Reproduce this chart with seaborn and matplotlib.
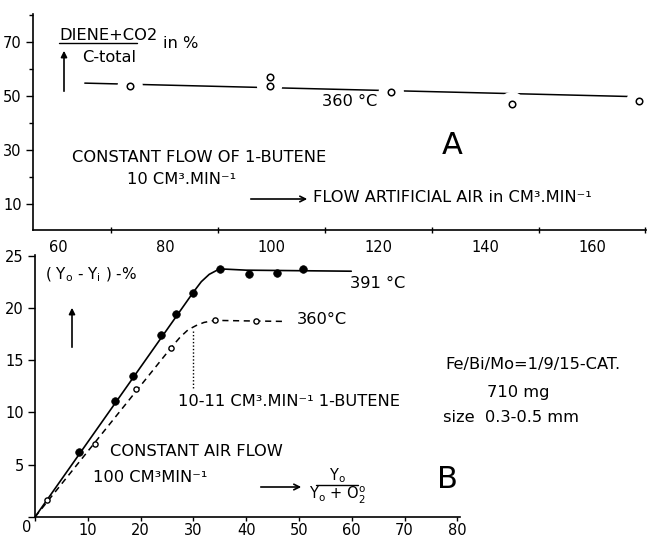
import matplotlib
matplotlib.use("Agg")
import matplotlib.pyplot as plt
import seaborn as sns
from matplotlib.lines import Line2D

sns.set_theme(style="ticks")
plt.rcParams['font.family'] = ['DejaVu Sans']
plt.rcParams.update({'text.color': 'black', 'xtick.color': 'black',
                     'ytick.color': 'black', 'axes.edgecolor': 'black',
                     'axes.labelcolor': 'black'})

# ---------------- Panel A data ----------------
a_flow = [73.5, 99.6, 99.6, 122.4, 145.0, 168.8]
a_yield = [53.7, 57.1, 53.8, 51.6, 46.9, 48.1]
a_fit_flow = [65.0, 169.9]
a_fit_yield = [54.8, 49.7]
a_xticks = [60, 80, 100, 120, 140, 160]
a_xminor = [70, 90, 110, 130, 150, 170]
a_yticks = [10, 30, 50, 70]
a_yminor = [20, 40, 60, 80]

# ---------------- Panel B data ----------------
b391_x = [8.4, 15.2, 18.5, 23.8, 26.8, 29.9, 35.1, 40.6, 45.9, 50.8]
b391_y = [6.2, 11.1, 13.5, 17.4, 19.4, 21.4, 23.7, 23.2, 23.3, 23.7]
b360_x = [2.2, 11.3, 19.2, 25.8, 34.0, 41.9]
b360_y = [1.6, 7.0, 12.2, 16.2, 18.8, 18.7]
b391_curve_x = [0, 30.0, 31.5, 33.0, 34.5, 36.0, 40.0, 59.9]
b391_curve_y = [0, 21.5, 22.5, 23.2, 23.6, 23.7, 23.6, 23.5]
b360_curve_x = [0, 25.8, 27.5, 29.0, 30.5, 32.0, 34.0, 40.0, 47.3]
b360_curve_y = [0, 16.2, 17.2, 17.9, 18.3, 18.6, 18.8, 18.75, 18.7]
b_marker_x = [29.9, 29.9]
b_marker_y = [17.8, 12.3]
b_xticks = [0, 10, 20, 30, 40, 50, 60, 70, 80]
b_xlabels = ['', '10', '20', '30', '40', '50', '60', '70', '80']
b_yticks = [0, 5, 10, 15, 20, 25]
b_ylabels = ['', '5', '10', '15', '20', '25']

W, H = 647, 539
fig = plt.figure(figsize=(W / 100, H / 100), dpi=100)


def fx(px):
    return px / W


def fy(py):
    return 1 - py / H


FS = 11.7
TFS = 10.5

# ================= Panel A =================
axA = fig.add_axes([fx(33), fy(230), (646 - 33) / W, (230 - 14) / H])
sns.lineplot(x=a_fit_flow, y=a_fit_yield, ax=axA, color='black', lw=1.1,
             estimator=None, sort=False, zorder=1)
# white halo under the open circles (line is interrupted there)
sns.scatterplot(x=a_flow, y=a_yield, ax=axA, s=330, color='white',
                edgecolor='none', linewidth=0, zorder=2)
sns.scatterplot(x=a_flow, y=a_yield, ax=axA, s=22, facecolor='white',
                edgecolor='black', linewidth=1.1, zorder=3)
axA.set_xlim(55.3, 170.1)
axA.set_ylim(0.4, 80.4)
axA.set_xticks(a_xticks)
axA.set_xticks(a_xminor, minor=True)
axA.set_yticks(a_yticks)
axA.set_yticks(a_yminor, minor=True)
axA.tick_params(axis='x', which='major', length=0, pad=7, labelsize=TFS)
axA.tick_params(axis='x', which='minor', length=5, width=1, direction='inout')
axA.tick_params(axis='y', which='major', length=5, width=1, pad=3, labelsize=TFS)
axA.tick_params(axis='y', which='minor', length=3, width=1)
axA.set_xlabel('')
axA.set_ylabel('')
sns.despine(ax=axA)
for s in ('left', 'bottom'):
    axA.spines[s].set_linewidth(1.2)
    axA.spines[s].set_color('black')

fig.text(fx(59), fy(35), 'DIENE+CO2', fontsize=FS, ha='left', va='center')
fig.text(fx(163), fy(43), 'in %', fontsize=FS, ha='left', va='center')
fig.text(fx(82), fy(57), 'C-total', fontsize=FS, ha='left', va='center')
fig.add_artist(Line2D([fx(59), fx(137)], [fy(43), fy(43)], color='black', lw=1))
axA.annotate('', xy=(fx(64), fy(48)), xytext=(fx(64), fy(94)),
             xycoords='figure fraction', textcoords='figure fraction',
             arrowprops=dict(arrowstyle='-|>', color='black', lw=1.2,
                             mutation_scale=9))
fig.text(fx(322), fy(102), '360 °C', fontsize=FS, ha='left', va='center')
fig.text(fx(452), fy(145), 'A', fontsize=22, ha='center', va='center')
fig.text(fx(72), fy(157), 'CONSTANT FLOW OF 1-BUTENE', fontsize=FS,
         ha='left', va='center')
fig.text(fx(127), fy(179), '10 CM³.MIN⁻¹', fontsize=FS, ha='left', va='center')
axA.annotate('', xy=(fx(310), fy(199)), xytext=(fx(248), fy(199)),
             xycoords='figure fraction', textcoords='figure fraction',
             arrowprops=dict(arrowstyle='->', color='black', lw=1.2,
                             mutation_scale=10))
fig.text(fx(313), fy(198), 'FLOW ARTIFICIAL AIR in CM³.MIN⁻¹', fontsize=FS,
         ha='left', va='center')

# ================= Panel B =================
axB = fig.add_axes([fx(35), fy(517), (460 - 35) / W, (517 - 255) / H])
sns.lineplot(x=b391_curve_x, y=b391_curve_y, ax=axB, color='black', lw=1.2,
             estimator=None, sort=False)
sns.lineplot(x=b360_curve_x, y=b360_curve_y, ax=axB, color='black', lw=1.1,
             estimator=None, sort=False, linestyle=(0, (4, 3)))
sns.lineplot(x=b_marker_x, y=b_marker_y, ax=axB, color='black', lw=1.0,
             estimator=None, sort=False, linestyle=(0, (1, 1.5)))
sns.scatterplot(x=b391_x, y=b391_y, ax=axB, s=30, color='black',
                edgecolor='black', linewidth=0.5, zorder=3)
sns.scatterplot(x=b360_x, y=b360_y, ax=axB, s=14, facecolor='white',
                edgecolor='black', linewidth=1.0, zorder=3)
axB.set_xlim(0, 80.5)
axB.set_ylim(0, 25.05)
axB.set_xticks(b_xticks, labels=b_xlabels)
axB.set_yticks(b_yticks, labels=b_ylabels)
axB.tick_params(axis='x', length=3, width=1, pad=1, labelsize=TFS)
axB.tick_params(axis='y', length=5, width=1, pad=3, labelsize=TFS)
axB.set_xlabel('')
axB.set_ylabel('')
sns.despine(ax=axB)
for s in ('left', 'bottom'):
    axB.spines[s].set_linewidth(1.2)
    axB.spines[s].set_color('black')

fig.text(fx(27), fy(527), '0', fontsize=TFS, ha='center', va='center')
fig.text(fx(45), fy(275), r'( Y$_\mathregular{o}$ - Y$_\mathregular{i}$ ) -%',
         fontsize=11, ha='left', va='center')
axB.annotate('', xy=(fx(72), fy(305)), xytext=(fx(72), fy(350)),
             xycoords='figure fraction', textcoords='figure fraction',
             arrowprops=dict(arrowstyle='-|>', color='black', lw=1.2,
                             mutation_scale=9))
fig.text(fx(350), fy(283), '391 °C', fontsize=FS, ha='left', va='center')
fig.text(fx(297), fy(320), '360°C', fontsize=FS, ha='left', va='center')
fig.text(fx(178), fy(401), '10-11 CM³.MIN⁻¹ 1-BUTENE', fontsize=FS,
         ha='left', va='center')
fig.text(fx(110), fy(452), 'CONSTANT AIR FLOW', fontsize=FS, ha='left', va='center')
fig.text(fx(93), fy(477), '100 CM³MIN⁻¹', fontsize=FS, ha='left', va='center')
axB.annotate('', xy=(fx(304), fy(487)), xytext=(fx(258), fy(487)),
             xycoords='figure fraction', textcoords='figure fraction',
             arrowprops=dict(arrowstyle='->', color='black', lw=1.2,
                             mutation_scale=10))
fig.text(fx(337), fy(476), r'Y$_\mathregular{o}$', fontsize=10.5,
         ha='center', va='center')
fig.add_artist(Line2D([fx(316), fx(358)], [fy(485), fy(485)], color='black', lw=1))
fig.text(fx(337), fy(495), r'Y$_\mathregular{o}$ + O$_\mathregular{2}^\mathregular{o}$',
         fontsize=10.5, ha='center', va='center')
fig.text(fx(447), fy(479), 'B', fontsize=22, ha='center', va='center')
fig.text(fx(445), fy(365), 'Fe/Bi/Mo=1/9/15-CAT.', fontsize=FS,
         ha='left', va='center')
fig.text(fx(487), fy(392), '710 mg', fontsize=FS, ha='left', va='center')
fig.text(fx(443), fy(417), 'size  0.3-0.5 mm', fontsize=FS, ha='left', va='center')

fig.savefig('out.png', dpi=100)
